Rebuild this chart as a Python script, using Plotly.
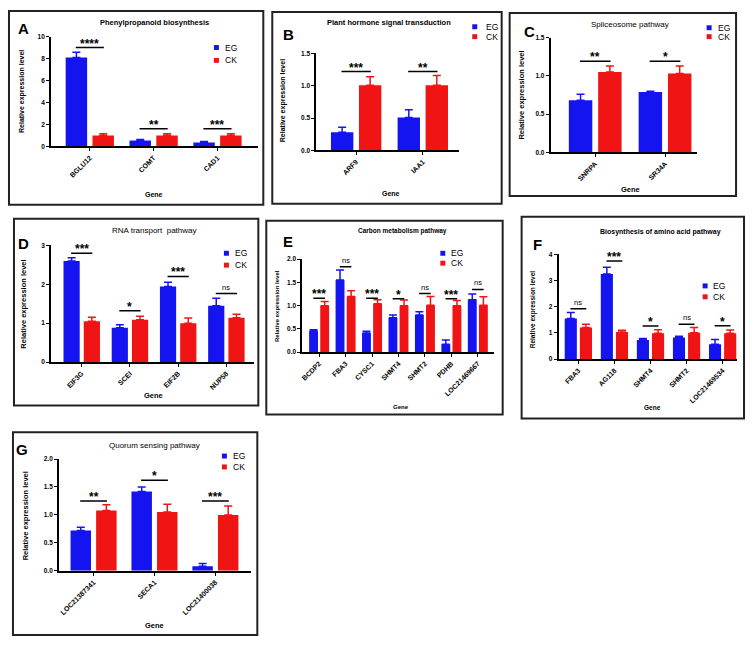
import plotly.graph_objects as go

W, H = 754, 646
BLUE = "#1414f0"
RED = "#f01414"
INK = "#000000"
FONT = "Arial, Liberation Sans, sans-serif"

# ---------------- data ----------------
A_genes = ["BGLU12", "COMT", "CAD1"]
A_eg = [8.09, 0.54, 0.36]
A_eg_err = [0.48, 0.10, 0.09]
A_ck = [1.0, 1.0, 1.0]
A_ck_err = [0.15, 0.15, 0.15]
A_sig = ["****", "**", "***"]
A_sig_y = [9.0, 1.6, 1.62]

B_genes = ["ARF9", "IAA1"]
B_eg = [0.28, 0.51]
B_eg_err = [0.08, 0.12]
B_ck = [1.01, 1.01]
B_ck_err = [0.13, 0.15]
B_sig = ["***", "**"]
B_sig_y = [1.22, 1.22]

C_genes = ["SNRPA", "SR34A"]
C_eg = [0.68, 0.79]
C_eg_err = [0.08, 0.01]
C_ck = [1.05, 1.03]
C_ck_err = [0.08, 0.10]
C_sig = ["**", "*"]
C_sig_y = [1.19, 1.19]

D_genes = ["EIF3G", "SCEI", "EIF2B", "NUP58"]
D_eg = [2.6, 0.88, 1.94, 1.45]
D_eg_err = [0.08, 0.08, 0.11, 0.19]
D_ck = [1.05, 1.09, 1.0, 1.14]
D_ck_err = [0.1, 0.09, 0.13, 0.09]
D_sig = ["***", "*", "***", "ns"]
D_sig_y = [2.8, 1.32, 2.2, 1.76]

E_genes = ["BCDP2", "FBA3", "CYSC1", "SHMT4", "SHMT2", "PDHB", "LOC21469667"]
E_eg = [0.45, 1.55, 0.41, 0.74, 0.80, 0.17, 1.13]
E_eg_err = [0.03, 0.22, 0.04, 0.06, 0.07, 0.09, 0.12]
E_ck = [1.0, 1.2, 1.04, 1.0, 1.01, 1.0, 1.01]
E_ck_err = [0.09, 0.12, 0.09, 0.12, 0.19, 0.11, 0.18]
E_sig = ["***", "ns", "***", "*", "ns", "***", "ns"]
E_sig_y = [1.16, 1.84, 1.16, 1.15, 1.26, 1.15, 1.35]

F_genes = ["FBA3", "AG118", "SHMT4", "SHMT2", "LOC21469534"]
F_eg = [1.55, 3.25, 0.73, 0.82, 0.57]
F_eg_err = [0.23, 0.25, 0.06, 0.05, 0.18]
F_ck = [1.21, 1.03, 0.99, 1.01, 0.99]
F_ck_err = [0.12, 0.07, 0.13, 0.20, 0.12]
F_sig = ["ns", "***", "*", "ns", "*"]
F_sig_y = [1.92, 3.74, 1.26, 1.33, 1.27]

G_genes = ["LOC21387341", "SECA1", "LOC21400038"]
G_eg = [0.72, 1.42, 0.08]
G_eg_err = [0.06, 0.08, 0.05]
G_ck = [1.08, 1.05, 1.0]
G_ck_err = [0.10, 0.14, 0.16]
G_sig = ["**", "*", "***"]
G_sig_y = [1.25, 1.62, 1.25]

SERIES = ["EG", "CK"]

# ---------------- panel layout (pixels) ----------------
panels = [
    dict(key="A", title="Phenylpropanoid biosynthesis", genes=A_genes, eg=A_eg, ege=A_eg_err, ck=A_ck, cke=A_ck_err,
         sig=A_sig, sigy=A_sig_y, ymax=10, dtick=2, fmt="d",
         box=(7, 7, 262, 203), plot=(49, 257, 33, 144), xr=(-0.61, 2.64),
         tpos=(153, 19), tsize=7.5, bold=True, lpos=(22, 25), ypos=(20, 88), ysize=7,
         xpos=(152, 193), leg=(215, 44, 13, 222)),
    dict(key="B", title="Plant hormone signal transduction", genes=B_genes, eg=B_eg, ege=B_eg_err, ck=B_ck, cke=B_ck_err,
         sig=B_sig, sigy=B_sig_y, ymax=1.5, dtick=0.5, fmt=".1f",
         box=(271, 8, 501, 202), plot=(315, 458, 50, 148), xr=(-0.6, 1.54),
         tpos=(388, 19), tsize=7.5, bold=True, lpos=(287, 31), ypos=(282, 98), ysize=7,
         xpos=(390, 192), leg=(474, 23, 10, 483)),
    dict(key="C", title="Spliceosome pathway", genes=C_genes, eg=C_eg, ege=C_eg_err, ck=C_ck, cke=C_ck_err,
         sig=C_sig, sigy=C_sig_y, ymax=1.5, dtick=0.5, fmt=".1f",
         box=(509, 9, 736, 194), plot=(550, 697, 34, 150), xr=(-0.64, 1.46),
         tpos=(630, 21), tsize=8, bold=False, lpos=(529, 28), ypos=(520, 92), ysize=7.5,
         xpos=(630, 188), leg=(709, 24, 9, 716)),
    dict(key="D", title="RNA transport  pathway", genes=D_genes, eg=D_eg, ege=D_eg_err, ck=D_ck, cke=D_ck_err,
         sig=D_sig, sigy=D_sig_y, ymax=3, dtick=1, fmt="d",
         box=(12, 217, 257, 406), plot=(49, 253, 244, 362), xr=(-0.64, 3.58),
         tpos=(152, 229), tsize=8, bold=False, lpos=(22, 242), ypos=(22, 303), ysize=7.5,
         xpos=(152, 396), leg=(225, 252, 12, 232)),
    dict(key="E", title="Carbon metabolism pathway", genes=E_genes, eg=E_eg, ege=E_eg_err, ck=E_ck, cke=E_ck_err,
         sig=E_sig, sigy=E_sig_y, ymax=2, dtick=0.5, fmt=".1f",
         box=(265, 219, 502, 415), plot=(301, 493, 258, 352), xr=(-0.64, 6.6),
         tpos=(402, 229), tsize=6.5, bold=True, lpos=(287, 240), ypos=(275, 305), ysize=6,
         xpos=(400, 407), leg=(442, 252, 10, 448)),
    dict(key="F", title="Biosynthesis of amino acid pathway", genes=F_genes, eg=F_eg, ege=F_eg_err, ck=F_ck, cke=F_ck_err,
         sig=F_sig, sigy=F_sig_y, ymax=4, dtick=1, fmt="d",
         box=(521, 215, 744, 419), plot=(558, 737, 253, 359), xr=(-0.55, 4.4),
         tpos=(660, 230), tsize=7, bold=True, lpos=(537, 243), ypos=(532, 309), ysize=6.5,
         xpos=(652, 408), leg=(705, 285, 11, 711)),
    dict(key="G", title="Quorum sensing pathway", genes=G_genes, eg=G_eg, ege=G_eg_err, ck=G_ck, cke=G_ck_err,
         sig=G_sig, sigy=G_sig_y, ymax=2, dtick=0.5, fmt=".1f",
         box=(11, 433, 256, 638), plot=(57, 250, 460, 573), xr=(-0.57, 2.59),
         tpos=(153, 446), tsize=8, bold=False, lpos=(20, 450), ypos=(23, 517), ysize=7.5,
         xpos=(153, 628), leg=(223, 457, 11, 230)),
]


def px(x):
    return x / W


def py(y):
    return 1 - y / H


fig = go.Figure()
layout = dict(
    width=W, height=H, margin=dict(l=0, r=0, t=0, b=0),
    paper_bgcolor="white", plot_bgcolor="white",
    barmode="group", bargap=0.16, bargroupgap=0.2,
    showlegend=False, font=dict(family=FONT, color=INK),
)
shapes = []
annotations = []

for i, p in enumerate(panels, start=1):
    xa, ya = f"x{i}", f"y{i}"
    weight = "bold" if p["bold"] else "normal"
    for name, vals, errs, col in (("EG", p["eg"], p["ege"], BLUE), ("CK", p["ck"], p["cke"], RED)):
        fig.add_trace(go.Bar(
            x=p["genes"], y=vals, name=name, marker=dict(color=col, line=dict(width=0)),
            error_y=dict(type="data", array=errs, arrayminus=[0] * len(errs), symmetric=False,
                         color=col, thickness=1.5, width=4),
            xaxis=xa, yaxis=ya, showlegend=False,
        ))
    l, r, t, b = p["plot"]
    layout[f"xaxis{i}"] = dict(
        domain=[px(l), px(r)], anchor=ya, range=list(p["xr"]), type="category",
        showline=True, linecolor=INK, linewidth=1.5, ticks="outside", ticklen=3,
        tickwidth=1.2, tickcolor=INK, tickangle=-45, showgrid=False, zeroline=False,
        tickfont=dict(size=7, family=FONT, weight="bold", color=INK), fixedrange=True,
    )
    layout[f"yaxis{i}"] = dict(
        domain=[py(b), py(t)], anchor=xa, range=[0, p["ymax"]], dtick=p["dtick"],
        tickformat=p["fmt"], showline=True, linecolor=INK, linewidth=1.5,
        ticks="outside", ticklen=3, tickwidth=1.2, tickcolor=INK,
        showgrid=False, zeroline=False,
        tickfont=dict(size=6.5, family=FONT, weight="bold", color=INK), fixedrange=True,
    )
    # panel frame
    x0, y0, x1, y1 = p["box"]
    shapes.append(dict(type="rect", xref="paper", yref="paper", x0=px(x0), x1=px(x1), y0=py(y1), y1=py(y0),
                       line=dict(color="#222222", width=2), fillcolor="rgba(0,0,0,0)"))
    # texts
    annotations.append(dict(text=p["title"], xref="paper", yref="paper", x=px(p["tpos"][0]), y=py(p["tpos"][1]),
                            xanchor="center", yanchor="middle", showarrow=False,
                            font=dict(size=p["tsize"], weight=weight, color=INK)))
    annotations.append(dict(text=p["key"], xref="paper", yref="paper", x=px(p["lpos"][0]), y=py(p["lpos"][1]),
                            xanchor="center", yanchor="middle", showarrow=False,
                            font=dict(size=15, weight="bold", color=INK)))
    annotations.append(dict(text="Relative expression level", xref="paper", yref="paper",
                            x=px(p["ypos"][0]), y=py(p["ypos"][1]), textangle=-90,
                            xanchor="center", yanchor="middle", showarrow=False,
                            font=dict(size=p["ysize"], weight="bold", color=INK)))
    annotations.append(dict(text="Gene", xref="paper", yref="paper", x=px(p["xpos"][0]), y=py(p["xpos"][1]),
                            xanchor="center", yanchor="middle", showarrow=False,
                            font=dict(size=p["ysize"], weight="bold", color=INK)))
    # legend
    lx, ly, dy, tx = p["leg"]
    for k, (name, col) in enumerate(zip(SERIES, (BLUE, RED))):
        yy = ly + k * dy
        shapes.append(dict(type="rect", xref="paper", yref="paper", x0=px(lx - 2.5), x1=px(lx + 2.5),
                           y0=py(yy + 2.5), y1=py(yy - 2.5), line=dict(width=0), fillcolor=col))
        annotations.append(dict(text=name, xref="paper", yref="paper", x=px(tx), y=py(yy),
                                xanchor="left", yanchor="middle", showarrow=False,
                                font=dict(size=8.5, color=INK)))
    # significance
    for j, (lab, yv) in enumerate(zip(p["sig"], p["sigy"])):
        shapes.append(dict(type="line", xref=xa, yref=ya, x0=j - 0.22, x1=j + 0.22, y0=yv, y1=yv,
                           line=dict(color=INK, width=1.5)))
        is_ns = lab == "ns"
        annotations.append(dict(text=lab, xref=xa, yref=ya, x=j, y=yv, xanchor="center", yanchor="bottom",
                                showarrow=False, yshift=0 if is_ns else -5,
                                font=dict(size=7.5 if is_ns else 12, weight="normal" if is_ns else "bold",
                                          color=INK)))

layout["shapes"] = shapes
layout["annotations"] = annotations
fig.update_layout(**layout)
fig.write_html("out.html", config={"displayModeBar": False},
               post_script="document.body.style.margin='0px';")
